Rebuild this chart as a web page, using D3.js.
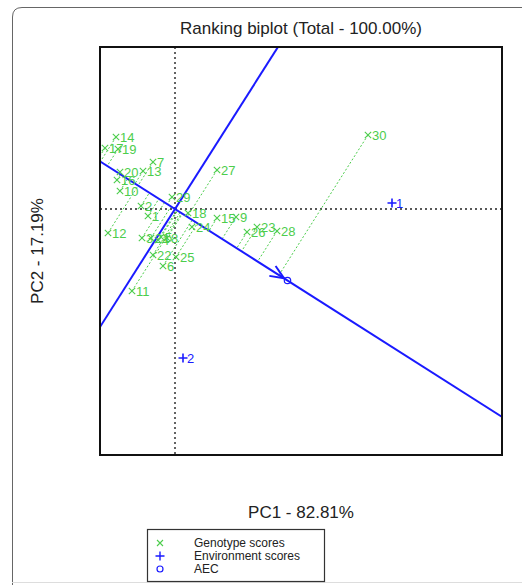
<!DOCTYPE html>
<html>
<head>
<meta charset="utf-8">
<script src="https://cdn.jsdelivr.net/npm/d3@7"></script>
<style>
body { margin: 0; background: #fff; }
text { font-family: "Liberation Sans", Arial, sans-serif; }
</style>
</head>
<body>
<div id="chart"></div>
<script>
// genotype scores (PC1, PC2)
var genoNames = ["1","2","3","4","5","6","7","8","9","10","11","12","13","14","15",
                 "16","17","18","19","20","21","22","23","24","25","26","27","28","29","30"];
var genoPC1 = [-0.54,-0.68,-0.66,-0.34,-0.28,-0.24,-0.44,-0.16,1.22,-1.10,-0.86,-1.34,-0.64,-1.18,0.84,
               -1.16,-1.40,0.26,-1.14,-1.10,-0.48,-0.44,1.64,0.34,0.02,1.44,0.84,2.04,-0.06,3.86];
var genoPC2 = [-0.14,0.06,-0.58,-0.62,-0.56,-1.14,0.94,-0.58,-0.16,0.36,-1.64,-0.48,0.76,1.44,-0.18,
               0.58,1.22,-0.08,1.20,0.74,-0.58,-0.92,-0.36,-0.36,-0.96,-0.46,0.78,-0.44,0.24,1.48];

// environment scores
var envNames = ["1","2"];
var envPC1 = [4.34, 0.16];
var envPC2 = [0.12, -2.98];

var xDomain = [-1.5, 6.54];
var yDomain = [-4.92, 3.24];

var w = 522, h = 585;
var pLeft = 100, pRight = 502, pTop = 47, pBottom = 455;
var green = "#4ccd4c", blue = "#1a1aff";

var svg = d3.select("#chart").append("svg").attr("width", w).attr("height", h);

var x = d3.scaleLinear().domain(xDomain).range([pLeft, pRight]);
var y = d3.scaleLinear().domain(yDomain).range([pBottom, pTop]);

// outer frame
svg.append("path")
    .attr("d", "M12.5,585 L12.5,17 Q12.5,7.5 22,7.5 L522,7.5")
    .attr("fill", "none").attr("stroke", "#666").attr("stroke-width", 1);
svg.append("line").attr("x1", 12).attr("x2", 522).attr("y1", 582.5).attr("y2", 582.5)
    .attr("stroke", "#ddd");

svg.append("defs").append("clipPath").attr("id", "clip")
    .append("rect").attr("x", pLeft).attr("y", pTop).attr("width", pRight - pLeft).attr("height", pBottom - pTop);

var plot = svg.append("g").attr("clip-path", "url(#clip)");

// zero lines
plot.append("line").attr("x1", x(0)).attr("x2", x(0)).attr("y1", pTop).attr("y2", pBottom)
    .attr("stroke", "#222").attr("stroke-width", 1.4).attr("stroke-dasharray", "2,3");
plot.append("line").attr("x1", pLeft).attr("x2", pRight).attr("y1", y(0)).attr("y2", y(0))
    .attr("stroke", "#222").attr("stroke-width", 1.4).attr("stroke-dasharray", "2,3");

// average environment coordinate
var aec = [d3.mean(envPC1), d3.mean(envPC2)];
var len = Math.sqrt(aec[0] * aec[0] + aec[1] * aec[1]);
var u = [aec[0] / len, aec[1] / len];

var genos = genoNames.map(function(d, i) {
    return { name: d, px: genoPC1[i], py: genoPC2[i] };
});

// projections onto AEC abscissa
plot.selectAll(".proj")
    .data(genos)
    .enter()
    .append("line")
    .attr("x1", (d) => x(d.px))
    .attr("y1", (d) => y(d.py))
    .attr("x2", function(d) {
        var t = d.px * u[0] + d.py * u[1];
        return x(t * u[0]);
    })
    .attr("y2", function(d) {
        var t = d.px * u[0] + d.py * u[1];
        return y(t * u[1]);
    })
    .attr("stroke", green).attr("stroke-width", 1).attr("stroke-dasharray", "2,2");

// AEC abscissa and ordinate
var big = 20;
plot.append("line")
    .attr("x1", x(-big * u[0])).attr("y1", y(-big * u[1]))
    .attr("x2", x(big * u[0])).attr("y2", y(big * u[1]))
    .attr("stroke", blue).attr("stroke-width", 2);
plot.append("line")
    .attr("x1", x(-big * u[1])).attr("y1", y(big * u[0]))
    .attr("x2", x(big * u[1])).attr("y2", y(-big * u[0]))
    .attr("stroke", blue).attr("stroke-width", 2);

// arrow head near AEC
var tipX = x(aec[0] - 0.08 * u[0]), tipY = y(aec[1] - 0.08 * u[1]);
var ang = Math.atan2(tipY - y(0), tipX - x(0));
[0.4, -0.4].forEach(function(a) {
    plot.append("line")
        .attr("x1", tipX).attr("y1", tipY)
        .attr("x2", tipX - 15 * Math.cos(ang + a)).attr("y2", tipY - 15 * Math.sin(ang + a))
        .attr("stroke", blue).attr("stroke-width", 2);
});
plot.append("circle").attr("cx", x(aec[0])).attr("cy", y(aec[1])).attr("r", 3.2)
    .attr("fill", "none").attr("stroke", blue).attr("stroke-width", 1.2);

// genotype markers and labels
var g = plot.selectAll(".geno").data(genos).enter().append("g")
    .attr("transform", (d) => "translate(" + x(d.px) + "," + y(d.py) + ")");
g.append("path").attr("d", "M-3.2,-3.2L3.2,3.2M-3.2,3.2L3.2,-3.2")
    .attr("stroke", green).attr("stroke-width", 1.1);
g.append("text").attr("x", 4).attr("y", 0).attr("dy", "0.35em")
    .attr("font-size", 13).attr("fill", green).text((d) => d.name);

// environment markers and labels
var e = plot.selectAll(".env").data(envNames).enter().append("g")
    .attr("transform", (d, i) => "translate(" + x(envPC1[i]) + "," + y(envPC2[i]) + ")");
e.append("path").attr("d", "M-4.5,0L4.5,0M0,-4.5L0,4.5")
    .attr("stroke", blue).attr("stroke-width", 1.6);
e.append("text").attr("x", 4).attr("y", 0).attr("dy", "0.35em")
    .attr("font-size", 13).attr("fill", blue).text((d) => d);

// plot box
svg.append("rect").attr("x", pLeft).attr("y", pTop).attr("width", pRight - pLeft).attr("height", pBottom - pTop)
    .attr("fill", "none").attr("stroke", "#111").attr("stroke-width", 2);

// titles
svg.append("text").attr("x", (pLeft + pRight) / 2).attr("y", 34).attr("text-anchor", "middle")
    .attr("font-size", 17).attr("fill", "#222").text("Ranking biplot (Total - 100.00%)");
svg.append("text").attr("x", (pLeft + pRight) / 2).attr("y", 518).attr("text-anchor", "middle")
    .attr("font-size", 17).attr("fill", "#222").text("PC1 - 82.81%");
svg.append("text").attr("transform", "translate(43," + ((pTop + pBottom) / 2) + ") rotate(-90)")
    .attr("text-anchor", "middle").attr("font-size", 17).attr("fill", "#222").text("PC2 - 17.19%");

// legend
var leg = svg.append("g");
leg.append("rect").attr("x", 147.5).attr("y", 529.5).attr("width", 177).attr("height", 52)
    .attr("fill", "#fff").attr("stroke", "#333").attr("stroke-width", 1.2);
var legItems = ["Genotype scores", "Environment scores", "AEC"];
legItems.forEach(function(t, i) {
    var ly = 543 + i * 13;
    leg.append("text").attr("x", 194).attr("y", ly).attr("dy", "0.35em")
        .attr("font-size", 12).attr("fill", "#222").text(t);
});
leg.append("path").attr("d", "M157,540L163,546M157,546L163,540").attr("stroke", green).attr("stroke-width", 1.1);
leg.append("path").attr("d", "M155.5,556L164.5,556M160,551.5L160,560.5").attr("stroke", blue).attr("stroke-width", 1.4);
leg.append("circle").attr("cx", 160).attr("cy", 569).attr("r", 3).attr("fill", "none")
    .attr("stroke", blue).attr("stroke-width", 1.2);
</script>
</body>
</html>
